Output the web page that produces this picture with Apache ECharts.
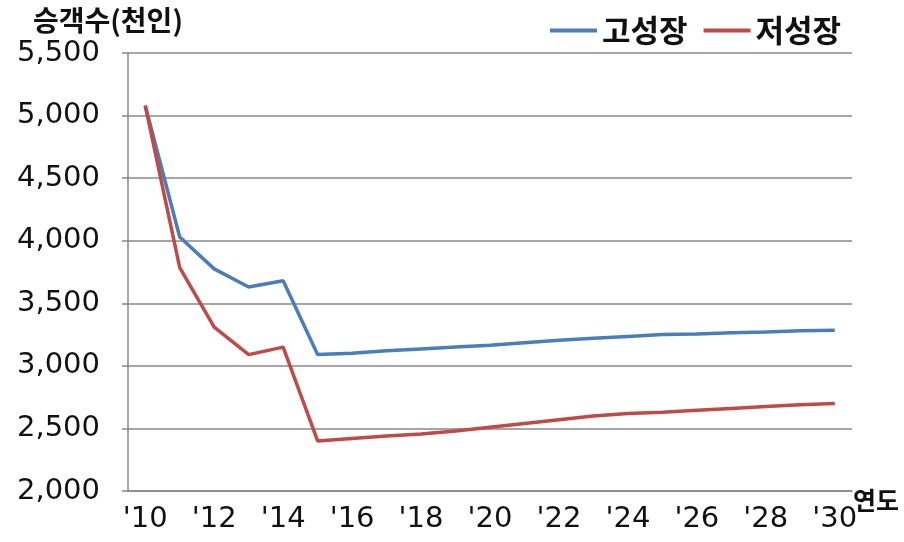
<!DOCTYPE html>
<html>
<head>
    <meta charset="UTF-8">
    <title>승객수 전망</title>
    <script src="https://cdn.jsdelivr.net/npm/echarts@6/dist/echarts.min.js"></script>
    <style>
        html, body { margin: 0; padding: 0; background: #fff; }
        #main { width: 904px; height: 542px; }
    </style>
</head>
<body>
<div id="main"></div>
<script>
    // 연도 (x축 카테고리)
    var years = ['2010', '2011', '2012', '2013', '2014', '2015', '2016', '2017', '2018', '2019', '2020',
        '2021', '2022', '2023', '2024', '2025', '2026', '2027', '2028', '2029', '2030'];
    // 고성장 시나리오 (천인)
    var highGrowth = [5080, 4030, 3775, 3630, 3680, 3090, 3100, 3120, 3135, 3150, 3165,
        3185, 3205, 3220, 3235, 3250, 3255, 3265, 3270, 3280, 3285];
    // 저성장 시나리오 (천인)
    var lowGrowth = [5080, 3785, 3310, 3090, 3150, 2400, 2420, 2440, 2455, 2480, 2510,
        2540, 2570, 2600, 2620, 2630, 2645, 2660, 2675, 2690, 2700];
    var seriesNames = ['고성장', '저성장'];
    var colors = ['#4a7ebb', '#be4b48'];

    var cjk = '"Noto Sans CJK KR", sans-serif';
    var num = '"DejaVu Sans", sans-serif';

    var chart = echarts.init(document.getElementById('main'));
    chart.setOption({
        animation: false,
        title: {
            text: '승객수(천인)',
            left: 28,
            top: 1,
            textStyle: { fontFamily: cjk, fontSize: 28, fontWeight: 'bold', color: '#111' }
        },
        legend: {
            data: seriesNames,
            left: 545,
            top: 10,
            icon: 'rect',
            itemWidth: 47,
            itemHeight: 4,
            itemGap: 16,
            textStyle: { fontFamily: cjk, fontSize: 31, fontWeight: 'bold', color: '#111' }
        },
        grid: { left: 128, right: 52, top: 53, bottom: 51, outerBoundsMode: 'none' },
        xAxis: {
            type: 'category',
            data: years,
            boundaryGap: true,
            name: '연도',
            nameGap: 1,
            nameMoveOverlap: false,
            nameTextStyle: { fontFamily: cjk, fontSize: 25, fontWeight: 'bold', color: '#111', align: 'left', verticalAlign: 'top', lineHeight: 18 },
            axisLine: { lineStyle: { color: '#888', width: 1.5 } },
            axisTick: { interval: 1, length: 6, lineStyle: { color: '#888', width: 1.5 } },
            axisLabel: {
                interval: 1,
                margin: 14,
                fontFamily: num,
                fontSize: 29,
                color: '#111',
                formatter: function (v) { return "'" + v.slice(2); }
            },
            splitLine: { show: false }
        },
        yAxis: {
            type: 'value',
            min: 2000,
            max: 5500,
            interval: 500,
            axisLine: { show: true, lineStyle: { color: '#888', width: 1.5 } },
            axisTick: { show: true, inside: false, length: 6, lineStyle: { color: '#888', width: 1.5 } },
            axisLabel: {
                margin: 28,
                fontFamily: num,
                fontSize: 29,
                color: '#111',
                formatter: function (v) { return v.toLocaleString('en-US'); }
            },
            splitLine: { lineStyle: { color: '#888', width: 1.5 } }
        },
        series: [
            {
                name: seriesNames[0],
                type: 'line',
                data: highGrowth,
                symbol: 'none',
                itemStyle: { color: colors[0] },
                lineStyle: { color: colors[0], width: 3.5 }
            },
            {
                name: seriesNames[1],
                type: 'line',
                data: lowGrowth,
                symbol: 'none',
                itemStyle: { color: colors[1] },
                lineStyle: { color: colors[1], width: 3.5 }
            }
        ]
    });
</script>
</body>
</html>
